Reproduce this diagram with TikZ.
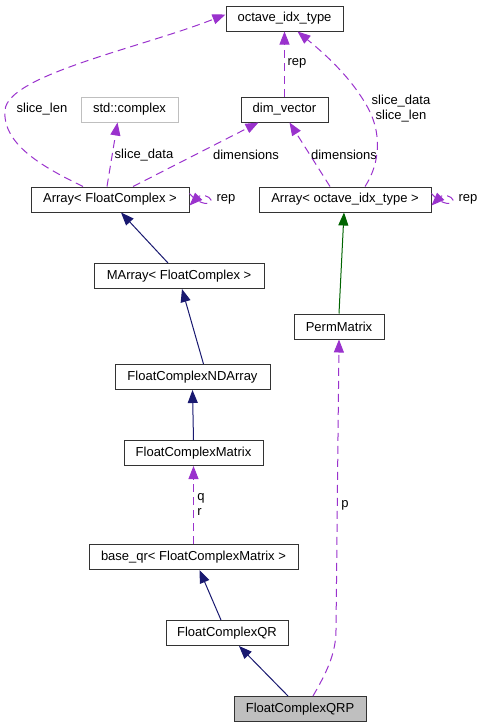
\documentclass[tikz,border=0pt]{standalone}
\usepackage{fontspec}
\setmainfont{Liberation Sans}
\usetikzlibrary{arrows.meta}
\definecolor{edgepurple}{HTML}{9A32CD}
\definecolor{edgenavy}{HTML}{191970}
\definecolor{edgegreen}{HTML}{006400}
\definecolor{nodegray}{HTML}{BFBFBF}
\begin{document}
\begin{tikzpicture}[x=1pt,y=-1pt,
  box/.style={draw=black!80,line width=1pt,inner sep=0pt,minimum height=25pt,font=\fontsize{13}{15}\selectfont,text=black},
  lbl/.style={font=\fontsize{13}{15}\selectfont,inner sep=0pt},
  usage/.style={draw=edgepurple,line width=1pt,dash pattern=on 8pt off 5pt,-{Triangle[length=13pt,width=10pt,fill=edgepurple]}},
  inherit/.style={draw=edgenavy,line width=1pt,-{Triangle[length=13pt,width=10pt,fill=edgenavy]}},
  inheritg/.style={draw=edgegreen,line width=1pt,-{Triangle[length=13pt,width=10pt,fill=edgegreen]}}]
\useasboundingbox (0,0) rectangle (484,728);
\node[box,minimum width=117pt] (oit) at (284.5,18.5) {octave\_idx\_type};
\node[box,draw=nodegray,minimum width=97pt] (cplx) at (129.5,109.5) {std::complex};
\node[box,minimum width=87pt] (dimv) at (284.5,109.5) {dim\_vector};
\node[box,minimum width=158pt] (afc) at (110,199.5) {Array< FloatComplex >};
\node[box,minimum width=172pt] (aoit) at (345,199.5) {Array< octave\_idx\_type >};
\node[box,minimum width=170pt] (mafc) at (179,276) {MArray< FloatComplex >};
\node[box,minimum width=90pt] (perm) at (339,326.5) {PermMatrix};
\node[box,minimum width=155pt] (nda) at (192.5,377) {FloatComplexNDArray};
\node[box,minimum width=139pt] (fcm) at (193.5,453) {FloatComplexMatrix};
\node[box,minimum width=209pt] (bqr) at (193.5,557) {base\_qr< FloatComplexMatrix >};
\node[box,minimum width=122pt] (fqr) at (227,633) {FloatComplexQR};
\node[box,fill=nodegray,minimum width=132pt] (fqrp) at (300,709) {FloatComplexQRP};

% usage edges
\draw[usage] ([xshift=-27pt]afc.north) .. controls (45,168) and (2,145) .. (5,110)
  .. controls (8,75) and (140,48) .. ([yshift=4pt]oit.west);
\node[lbl] (l1) at (42,109) {slice\_len};
\draw[usage] ([xshift=-3pt]afc.north) -- ([xshift=-12pt]cplx.south);
\node[lbl] (l2) at (144,155) {slice\_data};
\draw[usage] ([xshift=23pt]afc.north) -- ([xshift=-26pt]dimv.south);
\node[lbl] (l3) at (246,155) {dimensions};
\draw[usage] ([yshift=6pt]afc.east) .. controls (200,206) and (212,205) .. (211,200) .. controls (210,196) and (201,194) .. ([yshift=-6pt]afc.east);
\node[lbl] (l4) at (226,199) {rep};
\draw[usage] (dimv.north) -- (oit.south);
\node[lbl] (l5) at (297,63) {rep};
\draw[usage] ([xshift=-15pt]aoit.north) -- ([xshift=5pt]dimv.south);
\node[lbl] (l6) at (344,155) {dimensions};
\draw[usage] ([xshift=20pt]aoit.north) .. controls (376,170) and (385,140) .. (368,108)
  .. controls (350,75) and (320,50) .. ([xshift=13pt]oit.south);
\node[lbl,align=center] (l7) at (401,108.5) {slice\_data\\slice\_len};
\draw[usage] ([yshift=6pt]aoit.east) .. controls (442,206) and (454,205) .. (453,200) .. controls (452,196) and (443,194) .. ([yshift=-6pt]aoit.east);
\node[lbl] (l8) at (468,199) {rep};
\draw[usage] (fqrp.north) ++(13pt,0) .. controls (325,675) and (336,655) .. (336,630) -- (perm.south);
\node[lbl] (l9) at (345,505) {p};
\node[lbl,align=left] (l10) at (201,504) {q\\r};
\draw[usage] (bqr.north) -- (fcm.south);

% inheritance
\draw[inherit] ([xshift=-11pt]mafc.north) -- ([xshift=11pt]afc.south);
\draw[inherit] ([xshift=11pt]nda.north) -- ([xshift=3pt]mafc.south);
\draw[inherit] (fcm.north) -- (nda.south);
\draw[inheritg] (perm.north) -- ([xshift=-1pt]aoit.south);
\draw[inherit] ([xshift=-6pt]fqr.north) -- ([xshift=6pt]bqr.south);
\draw[inherit] ([xshift=-12pt]fqrp.north) -- ([xshift=12pt]fqr.south);
\end{tikzpicture}
\end{document}
